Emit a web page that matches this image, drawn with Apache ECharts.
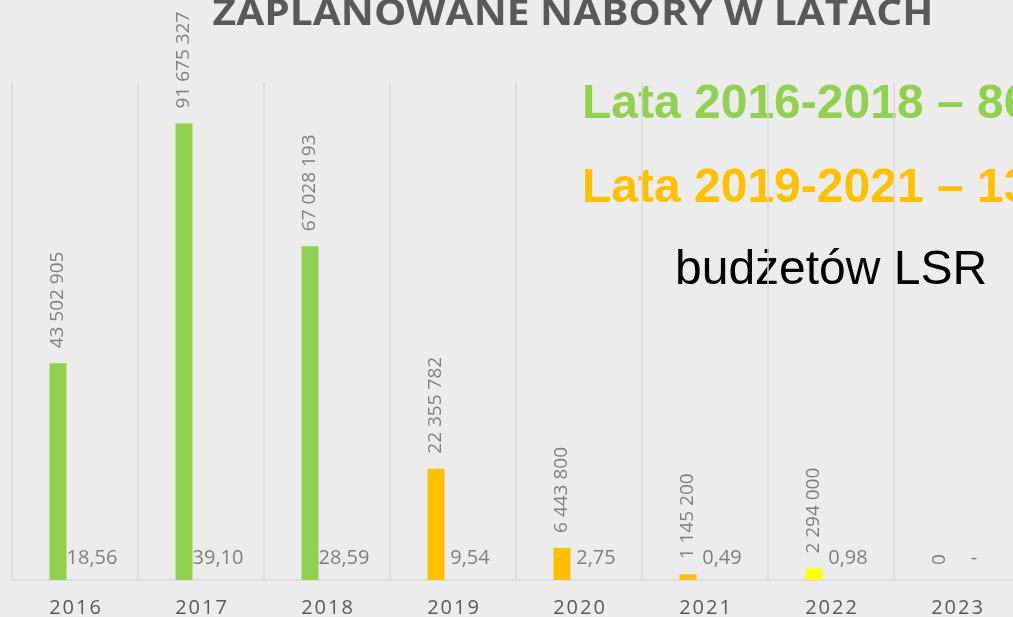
<!DOCTYPE html>
<html>
<head>
<meta charset="utf-8">
<script src="https://cdn.jsdelivr.net/npm/echarts@6/dist/echarts.min.js"></script>
<style>
  html, body { margin: 0; padding: 0; background: #ececec; }
  #chart { width: 1013px; height: 617px; }
</style>
</head>
<body>
<div id="chart"></div>
<script>
const years = ['2016', '2017', '2018', '2019', '2020', '2021', '2022', '2023'];
const naborKwoty = [43502905, 91675327, 67028193, 22355782, 6443800, 1145200, 2294000, 0];
const naborProcent = [18.56, 39.10, 28.59, 9.54, 2.75, 0.49, 0.98, 0];

const barColors = ['#92d050', '#92d050', '#92d050', '#ffc000', '#ffc000', '#ffc000', '#ffff00', '#92d050'];

const chart = echarts.init(document.getElementById('chart'));

const fmtKwota = (v) => String(v).replace(/\B(?=(\d{3})+(?!\d))/g, ' ');
const fmtProcent = (v) => v === 0 ? '-' : v.toFixed(2).replace('.', ',');

const option = {
  backgroundColor: '#ececec',
  animation: false,
  textStyle: { fontFamily: "'Open Sans', sans-serif" },
  grid: { left: 12, width: 1008, top: 82, bottom: 37, outerBoundsMode: 'none', containLabel: false },
  xAxis: {
    type: 'category',
    data: years,
    axisLine: { lineStyle: { color: '#d9d9d9', width: 1.5 } },
    axisTick: { show: false },
    splitLine: { show: true, lineStyle: { color: '#d9d9d9', width: 1.5 } },
    axisLabel: {
      color: '#595959',
      fontSize: 20,
      margin: 18,
      formatter: (v) => v.split('').join('\u200a')
    }
  },
  yAxis: {
    type: 'value',
    min: 0,
    max: 100000000,
    show: false,
    splitLine: { show: false }
  },
  series: [
    {
      name: 'kwota',
      type: 'bar',
      barWidth: 17,
      barGap: '100%',
      data: naborKwoty.map((v, i) => ({ value: v, itemStyle: { color: barColors[i] } })),
      label: {
        show: true,
        position: 'top',
        rotate: 90,
        align: 'left',
        verticalAlign: 'middle',
        distance: 15,
        color: '#7f7f7f',
        fontSize: 19,
        formatter: (p) => fmtKwota(p.value)
      }
    },
    {
      name: 'procent',
      type: 'bar',
      barWidth: 17,
      data: naborProcent,
      itemStyle: { color: 'transparent' },
      label: {
        show: true,
        position: 'insideBottom',
        distance: 12,
        color: '#7f7f7f',
        fontSize: 20,
        formatter: (p) => fmtProcent(p.value)
      }
    }
  ],
  graphic: [
    {
      type: 'text',
      x: 573,
      y: 15,
      scaleX: 1.13,
      style: {
        text: 'ZAPLANOWANE NABORY W LATACH',
        font: "bold 36px 'Open Sans', sans-serif",
        fill: '#595959',
        align: 'center',
        verticalAlign: 'middle'
      }
    },
    {
      type: 'text',
      x: 582,
      y: 105,
      style: {
        text: 'Lata 2016-2018 – 86%',
        font: "bold 48px 'Liberation Sans', Arial, sans-serif",
        fill: '#92d050',
        align: 'left',
        verticalAlign: 'middle'
      }
    },
    {
      type: 'text',
      x: 582,
      y: 189,
      style: {
        text: 'Lata 2019-2021 – 13%',
        font: "bold 48px 'Liberation Sans', Arial, sans-serif",
        fill: '#ffc000',
        align: 'left',
        verticalAlign: 'middle'
      }
    },
    {
      type: 'text',
      x: 675,
      y: 271,
      style: {
        text: 'budżetów LSR',
        font: "48px 'Liberation Sans', Arial, sans-serif",
        fill: '#000000',
        align: 'left',
        verticalAlign: 'middle'
      }
    }
  ]
};

chart.setOption(option);
</script>
</body>
</html>
